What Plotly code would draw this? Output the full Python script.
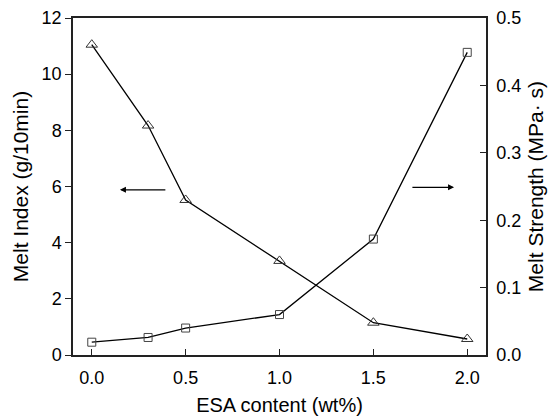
import plotly.graph_objects as go

esa = [0.0, 0.3, 0.5, 1.0, 1.5, 2.0]
melt_index = [11.05, 8.17, 5.52, 3.35, 1.15, 0.57]
melt_strength = [0.019, 0.026, 0.040, 0.060, 0.172, 0.449]

x_ticks = [0.0, 0.5, 1.0, 1.5, 2.0]
y1_ticks = [0, 2, 4, 6, 8, 10, 12]
y2_ticks = [0.0, 0.1, 0.2, 0.3, 0.4, 0.5]

FONT = "Liberation Sans, Arial, sans-serif"
AX = "#222222"

fig = go.Figure()
fig.add_trace(go.Scatter(
    x=esa, y=melt_index, mode="lines+markers", yaxis="y",
    line=dict(color="black", width=1.3),
    marker=dict(symbol="triangle-up-open", size=10, color="#333333", line=dict(width=1)),
    showlegend=False))
fig.add_trace(go.Scatter(
    x=esa, y=melt_strength, mode="lines+markers", yaxis="y2",
    line=dict(color="black", width=1.3),
    marker=dict(symbol="square-open", size=8, color="#444444", line=dict(width=1)),
    showlegend=False))

fig.update_layout(
    template="none",
    width=550, height=416,
    margin=dict(l=73, r=64, t=18, b=61, pad=0),
    plot_bgcolor="white", paper_bgcolor="white",
    font=dict(family=FONT, size=18, color="black"),
    xaxis=dict(range=[-0.1, 2.1], tickvals=x_ticks, ticktext=[f"{v:.1f}" for v in x_ticks],
               ticks="inside", ticklen=6, tickwidth=1.3, tickcolor=AX,
               showline=True, linecolor=AX, linewidth=1.5, mirror=True,
               showgrid=False, zeroline=False, automargin=False,
               tickfont=dict(size=18), ticklabelstandoff=6,
               title=dict(text="ESA content (wt%)", font=dict(size=20), standoff=11)),
    yaxis=dict(range=[0, 12], tickvals=y1_ticks,
               ticks="outside", ticklen=6, tickwidth=1.3, tickcolor=AX,
               showline=True, linecolor=AX, linewidth=1.5,
               showgrid=False, zeroline=False, automargin=False,
               tickfont=dict(size=18),
               title=dict(text="Melt Index (g/10min)", font=dict(size=21), standoff=7)),
    yaxis2=dict(range=[0, 0.5], tickvals=y2_ticks, ticktext=[f"{v:.1f}" for v in y2_ticks],
                overlaying="y", side="right",
                ticks="inside", ticklen=6, tickwidth=1.3, tickcolor=AX,
                showline=True, linecolor=AX, linewidth=1.5,
                showgrid=False, zeroline=False, automargin=False,
                tickfont=dict(size=18), ticklabelstandoff=5,
                title=dict(text="Melt Strength (MPa· s)", font=dict(size=21), standoff=8)),
)

fig.add_annotation(x=0.15, y=5.88, ax=0.40, ay=5.88, xref="x", yref="y", axref="x", ayref="y",
                   text="", showarrow=True, arrowhead=2, arrowsize=1, arrowwidth=1.2, arrowcolor="black")
fig.add_annotation(x=1.93, y=5.97, ax=1.70, ay=5.97, xref="x", yref="y", axref="x", ayref="y",
                   text="", showarrow=True, arrowhead=2, arrowsize=1, arrowwidth=1.2, arrowcolor="black")

fig.write_html("out.html", config={"displayModeBar": False},
               post_script="document.body.style.margin='0';document.body.style.padding='0';")
